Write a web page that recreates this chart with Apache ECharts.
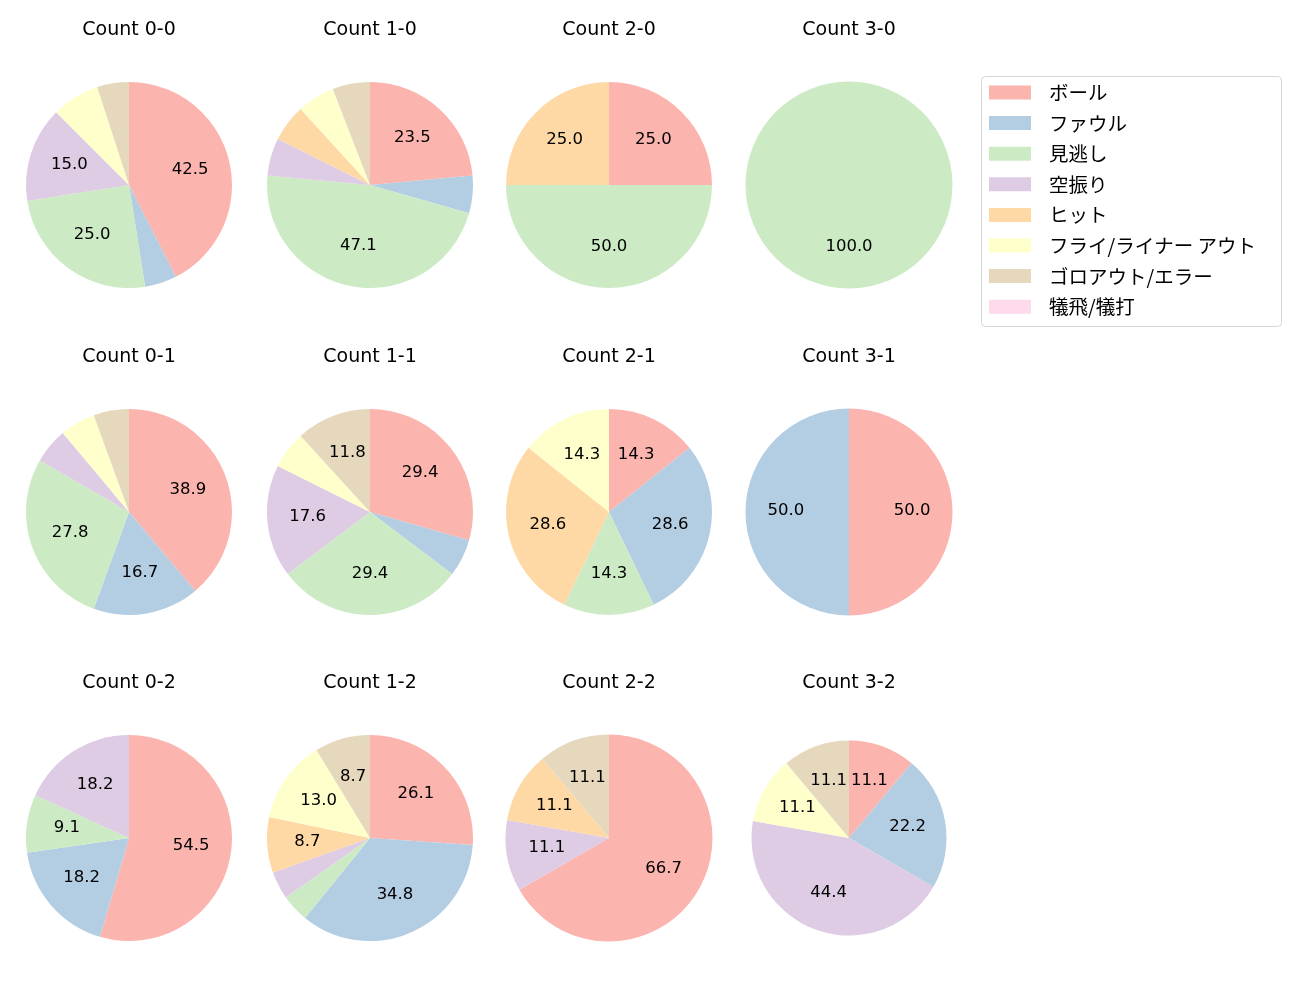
<!DOCTYPE html>
<html>
<head>
<meta charset="utf-8">
<script src="https://cdn.jsdelivr.net/npm/echarts@6/dist/echarts.min.js"></script>
<style>html,body{margin:0;padding:0;background:#fff}#c{width:1300px;height:1000px}</style>
</head>
<body>
<div id="c"></div>
<script>
const categories = ['ボール','ファウル','見逃し','空振り','ヒット','フライ/ライナー アウト','ゴロアウト/エラー','犠飛/犠打'];
const colors = ['#fbb4ae','#b3cde3','#ccebc5','#decbe4','#fed9a6','#ffffcc','#e5d8bd','#fddaec'];
const titles = ['Count 0-0','Count 1-0','Count 2-0','Count 3-0','Count 0-1','Count 1-1','Count 2-1','Count 3-1','Count 0-2','Count 1-2','Count 2-2','Count 3-2'];
const count00 = [17,2,10,6,0,3,2,0];
const count10 = [4,1,8,1,1,1,1,0];
const count20 = [1,0,2,0,1,0,0,0];
const count30 = [0,0,1,0,0,0,0,0];
const count01 = [7,3,5,1,0,1,1,0];
const count11 = [5,1,5,3,0,1,2,0];
const count21 = [1,2,1,0,2,1,0,0];
const count31 = [1,1,0,0,0,0,0,0];
const count02 = [6,2,1,2,0,0,0,0];
const count12 = [6,8,1,1,2,3,2,0];
const count22 = [6,0,0,1,1,0,1,0];
const count32 = [1,2,0,4,0,1,1,0];
const allCounts = [count00,count10,count20,count30,count01,count11,count21,count31,count02,count12,count22,count32];

const CJK = '"Noto Sans CJK JP", "Noto Sans", sans-serif';
const LAT = '"DejaVu Sans", sans-serif';
const colX = [129, 370, 609, 849];
const rowY = [185, 512, 838];
const titleY = [30.5, 357, 683.5];
const radii = [103,103,103,103.5, 103,103,103,103.5, 103,103,103.5,97.5];

const series = [];
const graphics = [];
// legend frame
graphics.push({type:'rect', z:-1, shape:{x:981.5,y:76.5,width:300,height:250,r:4}, style:{fill:'#fff', stroke:'#d6d6d6', lineWidth:1}});

allCounts.forEach((vals, i) => {
  const cx = colX[i % 4], cy = rowY[Math.floor(i / 4)];
  const r = radii[i];
  const total = vals.reduce((a,b)=>a+b,0);
  series.push({
    type:'pie', center:[cx, cy], radius: r, startAngle: 90, clockwise: true,
    animation:false, silent:true, label:{show:false}, labelLine:{show:false},
    data: vals.map((v,k)=>({name:categories[k], value:v, itemStyle:{color:colors[k]}}))
  });
  series.push({
    type:'pie', center:[cx, cy], radius: r * 1.16, startAngle: 90, clockwise: true,
    animation:false, silent:true, z: 5, labelLine:{show:false},
    data: vals.map((v,k)=>{
      const pct = v / total * 100;
      return {name:categories[k] + '#lbl', value:v, itemStyle:{color:'rgba(0,0,0,0)'},
        label:{show: pct > 8, position:'inside', offset:[0,-1], formatter: pct.toFixed(1), color:'#000', fontSize:16.5, fontFamily:LAT}};
    })
  });
  graphics.push({type:'text', x: cx, y: titleY[Math.floor(i / 4)],
    style:{text: titles[i], font: '19px ' + LAT, fill:'#000', align:'center', verticalAlign:'middle'}});
});

const chart = echarts.init(document.getElementById('c'));
chart.setOption({
  animation:false,
  graphic: graphics,
  legend: {
    data: categories, orient:'vertical', left: 989, top: 82.75, padding: 0,
    itemWidth: 42, itemHeight: 14, itemGap: 11.1, icon:'rect', selectedMode:false,
    textStyle:{fontSize:19.5, fontFamily:CJK, color:'#000', padding:[0,0,0,13]}
  },
  series: series
});
</script>
</body>
</html>
